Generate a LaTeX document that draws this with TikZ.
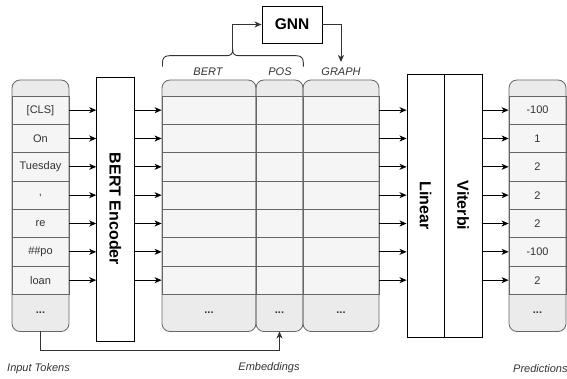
\documentclass[tikz,border=0pt]{standalone}
\usepackage{fontspec}
\usepackage{graphicx}
\setmainfont{Liberation Sans}
\usetikzlibrary{arrows.meta}
\definecolor{hd}{HTML}{EBEBEB}
\definecolor{rw}{HTML}{F5F5F5}
\definecolor{st}{HTML}{666666}
\definecolor{tx}{HTML}{333333}
\begin{document}
\begin{tikzpicture}[x=1pt,y=-1pt,
  cell/.style={draw=st, fill=rw, line width=0.8pt, inner sep=0pt, minimum height=28.33pt, text=tx, font=\fontsize{11}{13}\selectfont},
  foot/.style={inner sep=0pt, minimum height=37pt, text=tx, font=\bfseries\fontsize{11}{13}\selectfont},
  outl/.style={draw=st, line width=0.8pt, rounded corners=8pt},
  blk/.style={draw=black, fill=white, line width=0.9pt, inner sep=0pt, font=\bfseries\fontsize{16}{18}\selectfont},
  arr/.style={line width=0.9pt, -{Stealth[length=7pt,width=6pt,inset=2pt]}},
  garr/.style={draw=tx, line width=0.9pt, -{Stealth[length=7pt,width=6pt,inset=2pt]}},
  lab/.style={inner sep=0pt, text=tx, font=\itshape\fontsize{11}{13}\selectfont}
]
\useasboundingbox (0,0) rectangle (567,379);

% ---------- column backgrounds ----------
\foreach \xa/\xb in {12/69, 162/256, 256/303, 303/379, 509/566}
  \fill[hd, rounded corners=8pt] (\xa,80) rectangle (\xb,331.5);

% ---------- input tokens ----------
\foreach \t [count=\i from 0] in {[CLS],On,Tuesday,{,},re,\#\#po,loan}
  \node[cell, minimum width=57pt] (in\i) at (40.5,{96+28.333*(\i+0.5)}) {\t};
\node[foot, minimum width=57pt] (infoot) at (40.5,312.75) {...};
\draw[outl] (12,80) rectangle (69,331.5);

% ---------- embeddings ----------
\foreach \i in {0,...,6} {
  \node[cell, minimum width=94pt] (eb\i) at (209,{96+28.333*(\i+0.5)}) {};
  \node[cell, minimum width=47pt] (ep\i) at (279.5,{96+28.333*(\i+0.5)}) {};
  \node[cell, minimum width=76pt] (eg\i) at (341,{96+28.333*(\i+0.5)}) {};
}
\node[foot, minimum width=94pt] (ebfoot) at (209,312.75) {...};
\node[foot, minimum width=47pt] (epfoot) at (279.5,312.75) {...};
\node[foot, minimum width=76pt] (egfoot) at (341,312.75) {...};
\draw[outl] (162,80) rectangle (256,331.5);
\draw[outl] (256,80) rectangle (303,331.5);
\draw[outl] (303,80) rectangle (379,331.5);

% ---------- predictions ----------
\foreach \t [count=\i from 0] in {-100,1,2,2,2,-100,2}
  \node[cell, minimum width=57pt] (pr\i) at (537.5,{96+28.333*(\i+0.5)}) {\t};
\node[foot, minimum width=57pt] (prfoot) at (537.5,312.75) {...};
\draw[outl] (509,80) rectangle (566,331.5);

% ---------- blocks ----------
\node[blk, minimum width=37.3pt, minimum height=264pt] (enc) at (115.35,209) {\rotatebox{-90}{BERT Encoder}};
\node[blk, minimum width=37pt, minimum height=263pt] (lin) at (425.5,205.5) {\rotatebox{-90}{Linear}};
\node[blk, minimum width=38pt, minimum height=263pt] (vit) at (463,205.5) {\rotatebox{-90}{Viterbi}};
\node[blk, minimum width=60pt, minimum height=37pt, font=\bfseries\fontsize{15.5}{18}\selectfont] (gnn) at (292,24.5) {GNN};

% ---------- row arrows ----------
\foreach \i in {0,...,6} {
  \draw[arr] (in\i.east) -- (enc.west |- in\i.east);
  \draw[arr] (enc.east |- eb\i.west) -- (eb\i.west);
  \draw[arr] (eg\i.east) -- (lin.west |- eg\i.east);
  \draw[arr] (vit.east |- pr\i.west) -- (pr\i.west);
}

% ---------- header labels ----------
\node[lab] (lbert) at (208,72) {BERT};
\node[lab] (lpos) at (280,72) {POS};
\node[lab] (lgraph) at (341,72) {GRAPH};

% ---------- brace & GNN connectors ----------
\draw[draw=tx, line width=0.9pt]
  (162.5,66.7) -- (162.5,62.7) .. controls (162.5,58) and (164.5,55.7) .. (169.5,55.7)
  -- (226.7,55.7) .. controls (231,55.7) and (232.7,53.5) .. (232.7,50)
  .. controls (232.7,53.5) and (234.4,55.7) .. (238.7,55.7)
  -- (296.3,55.7) .. controls (301.3,55.7) and (303.3,58) .. (303.3,62.7) -- (303.3,66.7);
\coordinate (btip) at (232.7,50);
\coordinate (gtip) at (341,62);
\draw[garr] (btip) |- (gnn.west);
\draw[garr] (gnn.east) -| (gtip);

% ---------- bottom connector ----------
\draw[garr] (infoot.south) -- ++(0,18.5) -| (epfoot.south);

% ---------- bottom labels ----------
\node[lab, anchor=west] (linp) at (7,369) {Input Tokens};
\node[lab] (lemb) at (269,368) {Embeddings};
\node[lab, anchor=west] (lpred) at (513,369) {Predictions};
\end{tikzpicture}
\end{document}
